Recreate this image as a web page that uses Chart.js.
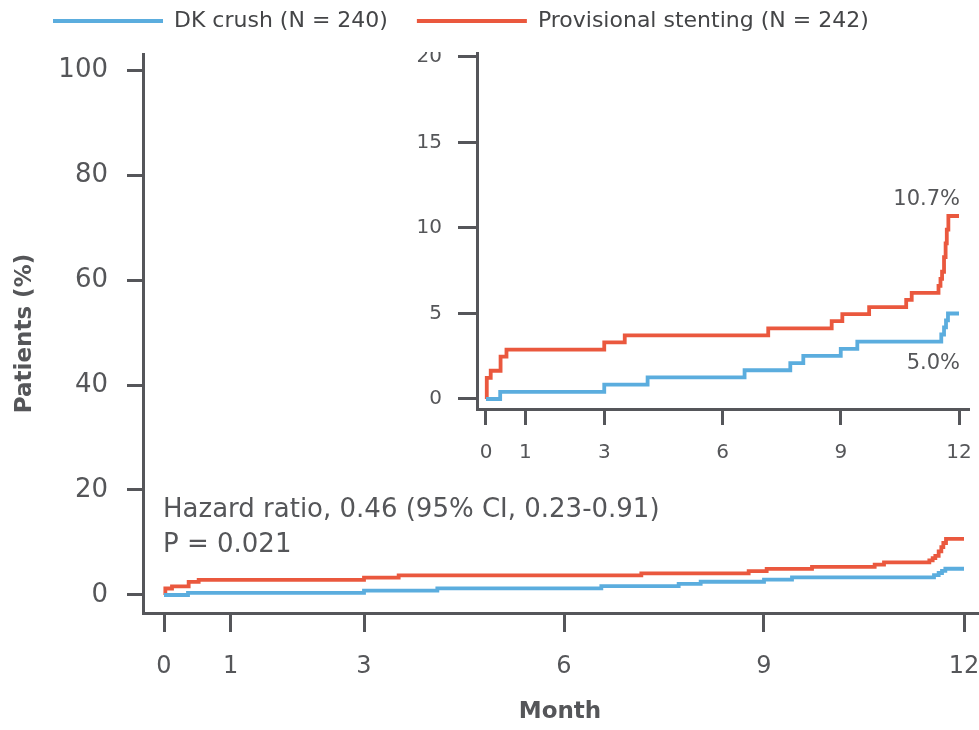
<!DOCTYPE html>
<html><head><meta charset="utf-8">
<script src="https://cdn.jsdelivr.net/npm/chart.js@4.4.1/dist/chart.umd.min.js"></script>
<style>
html,body{margin:0;padding:0;background:#fff;}
#wrap{position:relative;width:979px;height:730px;overflow:hidden;background:#fff;}
#main{position:absolute;left:0;top:0;}
#inset{position:absolute;left:400px;top:52px;}
</style></head><body>
<div id="wrap">
<canvas id="main" width="979" height="730"></canvas>
<canvas id="inset" width="579" height="428"></canvas>
</div>
<script>
// ---- data (cumulative incidence, %) ----
const seriesNames = ['DK crush (N = 240)', 'Provisional stenting (N = 242)'];
const dkMonths = [0, 0.36, 3.0, 4.1, 6.56, 7.72, 8.05, 9.0, 9.42, 11.55, 11.62, 11.67, 11.72, 12.0];
const dkPct    = [0, 0.42, 0.84, 1.26, 1.68, 2.1, 2.52, 2.93, 3.35, 3.77, 4.19, 4.6, 5.0, 5.0];
const psMonths = [0, 0.02, 0.12, 0.37, 0.52, 3.0, 3.52, 7.16, 8.77, 9.04, 9.72, 10.66, 10.8, 11.48, 11.53, 11.57, 11.62, 11.66, 11.69, 11.73, 12.0];
const psPct    = [0, 1.24, 1.65, 2.48, 2.89, 3.31, 3.72, 4.13, 4.55, 4.96, 5.37, 5.79, 6.2, 6.61, 7.02, 7.44, 8.3, 9.1, 9.9, 10.7, 10.7];
const monthTicks = [0, 1, 3, 6, 9, 12];
const mainPctTicks = [0, 20, 40, 60, 80, 100];
const insetPctTicks = [0, 5, 10, 15, 20];
const hazardLines = ['Hazard ratio, 0.46 (95% CI, 0.23-0.91)', 'P = 0.021'];
const xTitle = 'Month';
const yTitle = 'Patients (%)';

// ---- styles ----
const BLUE = '#5badde', RED = '#ea583e', AX = '#55565a', TXT = '#555659';
const FONT = '"DejaVu Sans", "Open Sans", sans-serif';

const pts = (xs, ys) => xs.map((x, i) => ({x: x, y: ys[i]}));
const fixTicks = arr => s => { s.ticks = arr.map(v => ({value: v})); };
const fmtPct = v => v.toFixed(1) + '%';

function datasets(width) {
  return [
    {label: seriesNames[0], data: pts(dkMonths, dkPct), borderColor: BLUE, backgroundColor: BLUE,
     borderWidth: width, stepped: 'before', pointRadius: 0, fill: false, borderJoinStyle: 'miter'},
    {label: seriesNames[1], data: pts(psMonths, psPct), borderColor: RED, backgroundColor: RED,
     borderWidth: width, stepped: 'before', pointRadius: 0, fill: false, borderJoinStyle: 'miter'}
  ];
}

function axis(o) {
  return {
    type: 'linear', min: o.min, max: o.max,
    afterBuildTicks: fixTicks(o.ticks),
    afterFit: s => {
      o.fit(s);
      s.paddingLeft = 0; s.paddingRight = 0; s.paddingTop = 0; s.paddingBottom = 0;
    },
    border: {display: true, color: AX, width: 3},
    grid: {drawOnChartArea: false, drawTicks: true, tickLength: o.tickLength, lineWidth: 3, color: AX},
    ticks: {color: TXT, font: {family: FONT, size: o.fontSize}, padding: o.padding, maxRotation: 0, autoSkip: false},
    title: o.title ? {display: true, text: o.title, color: TXT,
      font: {family: FONT, size: 23, weight: 'bold'}, padding: o.titlePadding} : {display: false}
  };
}

const legendPlace = {
  id: 'legendPlace',
  beforeLayout(chart) {
    const lg = chart.legend;
    if (lg && !lg.__fixed) {
      const f = lg.fit.bind(lg);
      lg.fit = function () { f(); this.height = 54; };
      lg.__fixed = true;
    }
  },
  afterLayout(chart) {
    const lg = chart.legend;
    if (lg) { lg.left = 24; lg.top = -19; }
  }
};

const hazardText = {
  id: 'hazardText',
  afterDatasetsDraw(chart) {
    const {ctx, scales: {x, y}} = chart;
    ctx.save();
    ctx.fillStyle = TXT;
    ctx.font = '26px ' + FONT;
    ctx.textAlign = 'left';
    ctx.textBaseline = 'alphabetic';
    const x0 = x.getPixelForValue(0) - 1;
    ctx.fillText(hazardLines[0], x0, y.getPixelForValue(14.86));
    ctx.fillText(hazardLines[1], x0, y.getPixelForValue(8.19));
    ctx.restore();
  }
};

const endText = {
  id: 'endText',
  afterDatasetsDraw(chart) {
    const {ctx, scales: {x, y}} = chart;
    ctx.save();
    ctx.fillStyle = TXT;
    ctx.font = '21px ' + FONT;
    ctx.textAlign = 'right';
    ctx.textBaseline = 'middle';
    const xr = x.getPixelForValue(12) + 1;
    const ps = psPct[psPct.length - 1], dk = dkPct[dkPct.length - 1];
    ctx.fillText(fmtPct(ps), xr, y.getPixelForValue(ps) - 16);
    ctx.fillText(fmtPct(dk), xr, y.getPixelForValue(dk) + 50);
    ctx.restore();
  }
};

new Chart(document.getElementById('main'), {
  type: 'line',
  data: {datasets: datasets(3.8)},
  plugins: [legendPlace, hazardText],
  options: {
    responsive: false, animation: false, events: [],
    layout: {padding: {left: 0, right: 2, top: 0, bottom: 0}},
    plugins: {
      tooltip: {enabled: false},
      legend: {
        display: true, position: 'top', align: 'start',
        labels: {
          boxWidth: 110, boxHeight: 4, padding: 29, color: '#444547',
          font: {family: FONT, size: 22},
          generateLabels: chart => chart.data.datasets.map((d, i) => ({
            text: d.label, fillStyle: d.borderColor, strokeStyle: d.borderColor,
            lineWidth: 0, hidden: false, datasetIndex: i, fontColor: '#444547'
          }))
        }
      }
    },
    scales: {
      x: axis({min: -0.315, max: 12.195, ticks: monthTicks, tickLength: 19, fontSize: 24, padding: 20,
               fit: s => { s.height = 117; }, title: xTitle, titlePadding: 4}),
      y: axis({min: -3.43, max: 103.05, ticks: mainPctTicks, tickLength: 16, fontSize: 26, padding: 19,
               fit: s => { s.width = 143; }, title: yTitle, titlePadding: 11})
    }
  }
});

new Chart(document.getElementById('inset'), {
  type: 'line',
  data: {datasets: datasets(3.8)},
  plugins: [endText],
  options: {
    responsive: false, animation: false, events: [],
    layout: {padding: {left: 0, right: 11, top: 1, bottom: 0}},
    plugins: {tooltip: {enabled: false}, legend: {display: false}},
    scales: {
      x: axis({min: -0.228, max: 12.228, ticks: monthTicks, tickLength: 16, fontSize: 20, padding: 16,
               fit: s => { s.height = 71; }}),
      y: axis({min: -0.585, max: 20.23, ticks: insetPctTicks, tickLength: 19, fontSize: 20, padding: 16,
               fit: s => { s.width = 77; }})
    }
  }
});
</script>
</body></html>
